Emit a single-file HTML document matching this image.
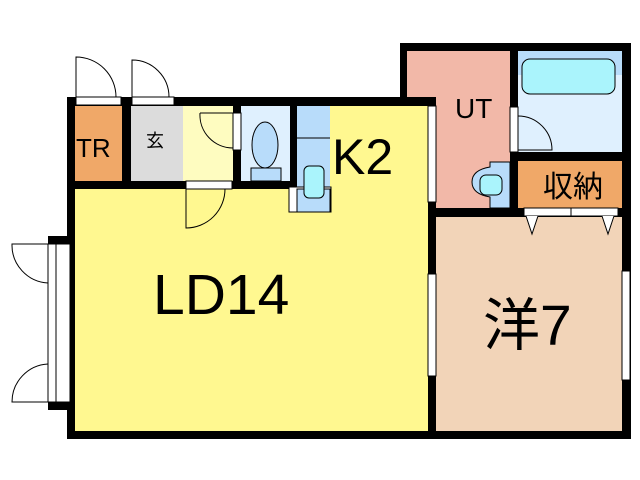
<!DOCTYPE html>
<html><head><style>body{margin:0;background:#fff}svg{display:block}text{font-family:"Liberation Sans","Noto Sans CJK JP",sans-serif}</style></head><body>
<svg width="640" height="480" viewBox="0 0 640 480">
<!-- floors -->
<rect x="75" y="105" width="360" height="328" fill="#fff890"/>
<rect x="75" y="106" width="48" height="76" fill="#f0a868"/>
<rect x="131" y="106" width="52" height="76" fill="#dcdcdc"/>
<rect x="183" y="106" width="50" height="76" fill="#fefcc0"/>
<rect x="241" y="106" width="49" height="76" fill="#dff0fe"/>
<rect x="297" y="106" width="33" height="106" fill="#b8dcfa"/>
<path d="M407 50 H511 V210 H436 V105 H407Z" fill="#f2b8a8"/>
<rect x="518" y="50" width="104" height="102" fill="#dff0fe"/>
<rect x="518" y="50" width="104" height="25" fill="#b8dcfa"/>
<rect x="518" y="161" width="104" height="47" fill="#f0a868"/>
<rect x="436" y="216" width="186" height="216" fill="#f2d4b8"/>
<!-- walls -->
<g fill="#000">
<rect x="67" y="97" width="369" height="9"/>
<rect x="67" y="97" width="8" height="342"/>
<rect x="67" y="431" width="564" height="8"/>
<rect x="622" y="43" width="9" height="396"/>
<rect x="400" y="43" width="231" height="8"/>
<rect x="400" y="43" width="7" height="62"/>
<rect x="428" y="97" width="8" height="342"/>
<rect x="428" y="208" width="194" height="9"/>
<rect x="510" y="43" width="8" height="174"/>
<rect x="510" y="152" width="112" height="9"/>
<rect x="122" y="97" width="9" height="92"/>
<rect x="233" y="97" width="8" height="92"/>
<rect x="290" y="97" width="7" height="92"/>
<rect x="67" y="181" width="230" height="8"/>
<rect x="48" y="236" width="27" height="8"/>
<rect x="48" y="402" width="27" height="8"/>
</g>
<!-- openings (white) -->
<g fill="#fff" stroke="#000" stroke-width="1">
<rect x="76" y="97" width="45" height="8"/>
<rect x="132" y="97" width="42" height="8"/>
<rect x="186" y="181" width="46" height="8"/>
<rect x="233" y="113" width="8" height="37"/>
<rect x="289" y="187" width="42" height="25"/>
<rect x="510" y="107" width="8" height="45"/>
<rect x="524" y="208" width="94" height="8"/>
<rect x="428" y="106" width="8" height="96"/>
<rect x="428" y="274" width="8" height="102"/>
<rect x="622" y="271" width="8" height="109"/>
<rect x="48" y="244" width="8" height="158"/>
<rect x="56" y="244" width="14" height="158"/>
</g>
<rect x="297" y="189" width="33" height="23" fill="#b8dcfa" stroke="#000"/>
<g fill="none" stroke="#000" stroke-width="1">
<path d="M76 97 V57 A40 40 0 0 1 116 97"/>
<path d="M132 97 V60 A37 37 0 0 1 169 97"/>
<path d="M200 113 H233 V148 A33 33 0 0 1 200 113"/>
<path d="M186 189 V228 A39 39 0 0 0 225 189"/>
<path d="M518 116 A34 34 0 0 1 552 150 H518"/>
<path d="M48 283 A38 38 0 0 1 12 244 H48"/>
<path d="M48 364 A38 38 0 0 0 12 402 H48"/>
<line x1="571" y1="208" x2="571" y2="216"/>
<path d="M526 216 L532 234 L538 216" fill="#fff"/>
<path d="M602 216 L608 234 L614 216" fill="#fff"/>
</g>
<!-- fixtures -->
<rect x="522" y="59" width="93" height="35" rx="8" fill="#aaf4fc" stroke="#000"/>
<ellipse cx="265" cy="145" rx="13" ry="23" fill="#b8dcfa" stroke="#000"/>
<rect x="251" y="168" width="30" height="13" fill="#b8dcfa" stroke="#000"/>
<line x1="297" y1="138" x2="330" y2="138" stroke="#000"/>
<rect x="304" y="166" width="20" height="32" rx="5" fill="#aaf4fc" stroke="#000"/>
<path d="M510 162 H490 V167 Q472 170 472 182 Q472 194 490 197 V208 H510Z" fill="#b8dcfa" stroke="#000"/>
<rect x="480" y="175" width="22" height="20" rx="6" fill="#aaf4fc" stroke="#000"/>
<!-- labels -->
<g fill="#000">
<text x="76" y="157" font-size="26">TR</text>
<text x="146" y="147" font-size="18">玄</text>
<text x="332" y="174" font-size="50">K2</text>
<text x="455" y="118" font-size="28">UT</text>
<text x="543" y="197" font-size="30">収納</text>
<text x="153" y="314" font-size="57">LD14</text>
<text x="483" y="345" font-size="57">洋7</text>
</g>
</svg>
</body></html>
